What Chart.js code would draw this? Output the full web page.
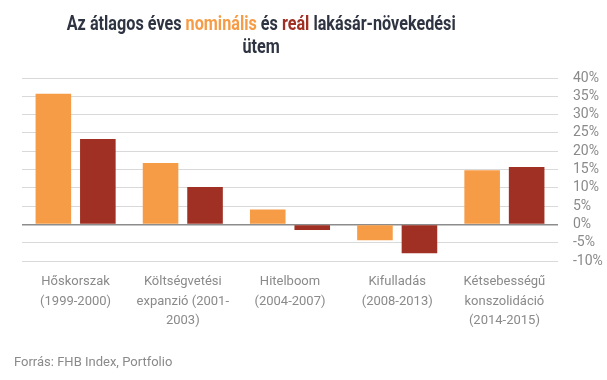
<!DOCTYPE html>
<html>
<head>
<meta charset="utf-8">
<script src="https://cdn.jsdelivr.net/npm/chart.js@4"></script>
<style>
  html,body{margin:0;padding:0;background:#fff;}
  #wrap{position:relative;width:607px;height:380px;}
  #title{position:absolute;left:0;top:12px;width:522px;text-align:center;font-family:Roboto,sans-serif;font-weight:700;font-size:20px;line-height:23px;color:#2e3441;}
  #title .t{display:inline-block;transform:scaleX(0.81);transform-origin:center;white-space:nowrap;}
  #src{position:absolute;left:14px;top:354px;font-family:Roboto,sans-serif;font-size:13px;color:#8a8a8a;}
  canvas{position:absolute;left:0;top:0;}
</style>
</head>
<body>
<div id="wrap">
  <canvas id="c" width="607" height="380"></canvas>
  <div id="title"><span class="t">Az átlagos éves <span style="color:#F79C46">nominális</span> és <span style="color:#A03024">reál</span> lakásár-növekedési</span><br><span class="t">ütem</span></div>
  <div id="src">Forrás: FHB Index, Portfolio</div>
</div>
<script>
const categories = [
  ["Hőskorszak","(1999-2000)"],
  ["Költségvetési","expanzió (2001-","2003)"],
  ["Hitelboom","(2004-2007)"],
  ["Kifulladás","(2008-2013)"],
  ["Kétsebességű","konszolidáció","(2014-2015)"]
];
const nominal = [35.7, 16.8, 4.1, -4.3, 14.8];
const real = [23.3, 10.2, -1.5, -7.9, 15.7];
const yMin = -10, yMax = 40, yStep = 5;

new Chart(document.getElementById('c'), {
  type: 'bar',
  data: {
    labels: categories,
    datasets: [
      {label: 'Nominális', data: nominal, backgroundColor: '#F79C46'},
      {label: 'Reál', data: real, backgroundColor: '#A03024'}
    ]
  },
  options: {
    responsive: false,
    animation: false,
    events: [],
    categoryPercentage: 0.83,
    barPercentage: 0.8,
    layout: {padding: {top: 78, left: 22, right: 0, bottom: 0}},
    plugins: {legend: {display: false}, tooltip: {enabled: false}, title: {display: false}},
    scales: {
      x: {
        grid: {display: false, drawTicks: false},
        border: {display: false},
        ticks: {color: '#8a8a8a', font: {family: 'Roboto', size: 13, lineHeight: 1.5}, padding: 11, maxRotation: 0, autoSkip: false},
        afterFit: s => { s.height = 119; }
      },
      y: {
        position: 'right',
        min: yMin, max: yMax,
        border: {display: false},
        grid: {
          drawTicks: false,
          color: ctx => ctx.tick && ctx.tick.value === 0 ? '#8c8c8c' : '#d9d9d9',
          lineWidth: ctx => ctx.tick && ctx.tick.value === 0 ? 1.5 : 1
        },
        ticks: {stepSize: yStep, autoSkip: false, color: '#8a8a8a', font: {family: 'Roboto', size: 14}, padding: 15, callback: v => v + '%'},
        afterFit: s => { s.width = 49; }
      }
    }
  }
});
</script>
</body>
</html>
